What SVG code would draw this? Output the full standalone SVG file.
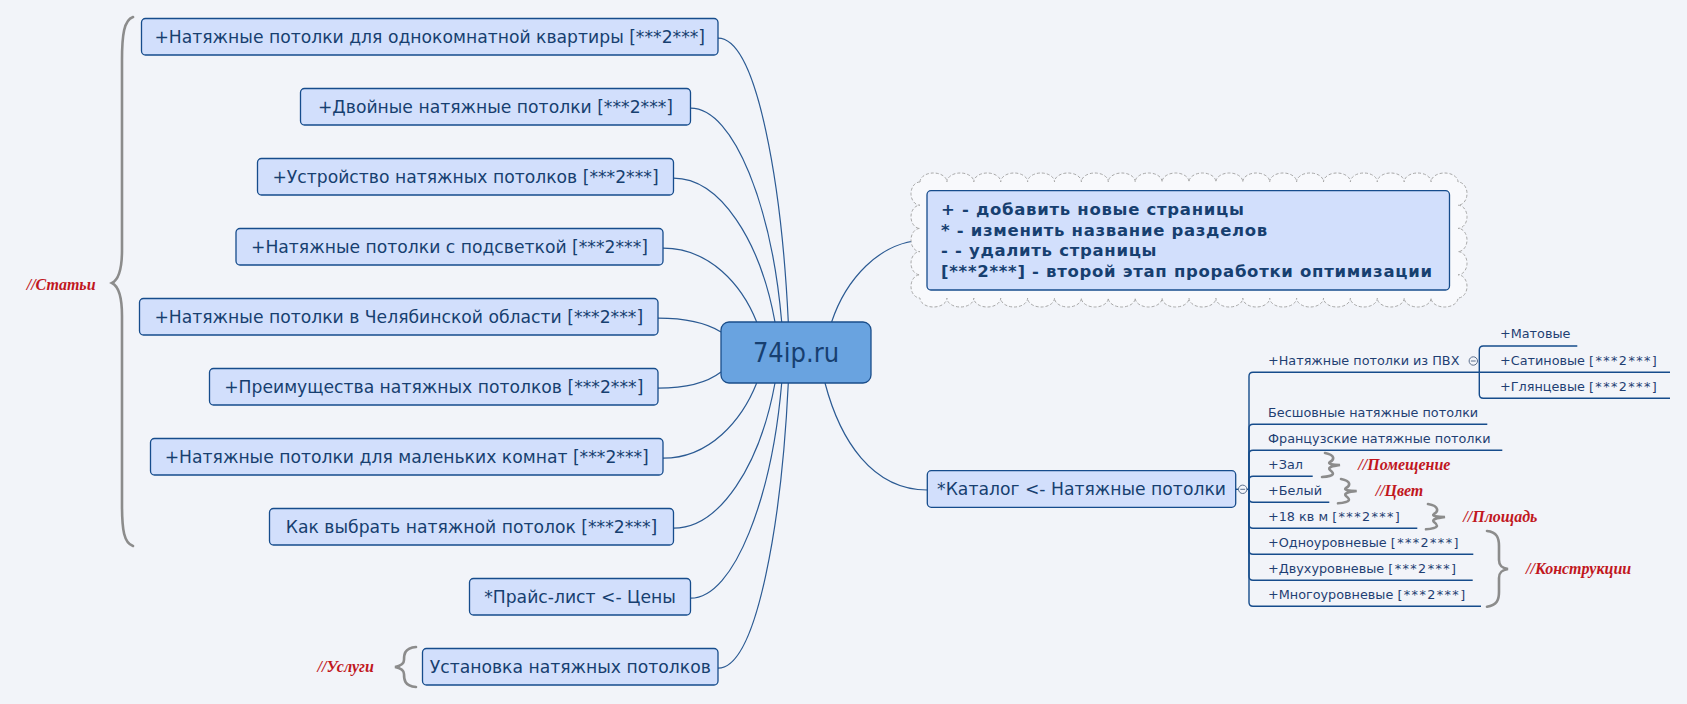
<svg xmlns="http://www.w3.org/2000/svg" width="1687" height="704" viewBox="0 0 1687 704">
<style>
.bg{fill:#F2F4F9}
.node rect{fill:#D2DFFC;stroke:#164C8C;stroke-width:1.3}
.t{font-family:'DejaVu Sans','Liberation Sans',sans-serif;font-size:17.2px;fill:#173F70;text-anchor:middle}
.ctr{font-family:'DejaVu Sans','Liberation Sans',sans-serif;font-stretch:condensed;font-size:27px;fill:#173F70;text-anchor:middle}
.conn path{fill:none;stroke:#2B5A93;stroke-width:1.2}
.tree path{fill:none;stroke:#164C8C;stroke-width:1.4}
.ct{font-family:'DejaVu Sans','Liberation Sans',sans-serif;font-size:12.8px;fill:#1F3F73}
.ct tspan{letter-spacing:1.4px}
.lab{font-family:'Liberation Serif',serif;font-style:italic;font-weight:bold;font-size:16px;fill:#C1171E}
.brace{fill:none;stroke:#8C8C8C;stroke-width:2.6;stroke-linecap:round}
.note{font-family:'DejaVu Sans','Liberation Sans',sans-serif;font-weight:bold;font-size:16.5px;letter-spacing:0.7px;fill:#173F70}
.col{fill:#F2F4F9;stroke:#5A6E8C;stroke-width:1}
</style>
<rect class="bg" x="0" y="0" width="1687" height="704"/>

<g id="connectors" class="conn">
<path d="M718,38.2 C758,38.2 782,190 788.3,322"/>
<path d="M690.5,108.2 C735,108.2 772,210 781.7,322"/>
<path d="M673.5,178.2 C720,178.2 760,240 775,322"/>
<path d="M663,248.2 C710,248.2 742,285 756.7,322"/>
<path d="M658,318.2 C688,318.2 708,324 721,332"/>
<path d="M658,388.2 C688,388.2 708,382 721,372"/>
<path d="M663,458.2 C710,458.2 742,420 756.7,383"/>
<path d="M673.5,528.2 C720,528.2 760,465 775,383"/>
<path d="M690.5,598.2 C735,598.2 772,495 781.7,383"/>
<path d="M718,668.2 C758,668.2 782,515 788.3,383"/>
<path d="M831.6,322 C845,282 878,240 927,240"/>
<path d="M825,383 C840,440 872,490 927.3,490"/>
</g>

<g id="braces">
<path class="brace" d="M133,17 C124,20 122,35 122,60 L122,250 C122,272 118,280 112,283 C118,286 122,294 122,316 L122,505 C122,530 124,543 133,546"/>
<path class="brace" d="M416,647 C404,648 404,655 404,660 C404,664 400,666 395,667 C400,668 404,670 404,674 C404,679 404,686 416,687"/>
<path class="brace" d="M1325,453 C1336,455 1334,460 1330,462 C1327,464 1333,465 1340,465 C1333,466 1327,467 1330,470 C1334,473 1336,476 1322,477"/>
<path class="brace" d="M1341,479 C1352,481 1350,486 1346,488 C1343,490 1349,491 1356.7,491 C1349,492 1343,493 1346,496 C1350,499 1352,502 1338,503.3"/>
<path class="brace" d="M1428,504 C1440,506 1438,512 1434,514 C1431,516 1438,517 1445,517 C1438,518 1431,519 1434,522 C1438,525 1440,528 1426,529.3"/>
<path class="brace" d="M1487,531 C1497,532 1499,538 1499,546 L1499,560 C1499,566 1502,568 1508,569 C1502,570 1499,572 1499,578 L1499,592 C1499,600 1497,605 1487,606.7"/>
</g>

<g id="labels">
<text class="lab" x="26.7" y="290">//Статьи</text>
<text class="lab" x="317.5" y="672">//Услуги</text>
<text class="lab" x="1358.3" y="470">//Помещение</text>
<text class="lab" x="1375.7" y="496">//Цвет</text>
<text class="lab" x="1463.3" y="522">//Площадь</text>
<text class="lab" x="1526" y="574">//Конструкции</text>
</g>

<g id="n1" class="node"><rect x="141.5" y="18.5" width="576.5" height="36.5" rx="4"/><text class="t" x="429.75" y="43">+Натяжные потолки для однокомнатной квартиры [***2***]</text></g>
<g id="n2" class="node"><rect x="300.5" y="88.5" width="390" height="36.5" rx="4"/><text class="t" x="495.5" y="113">+Двойные натяжные потолки [***2***]</text></g>
<g id="n3" class="node"><rect x="257.5" y="158.5" width="416" height="36.5" rx="4"/><text class="t" x="465.5" y="183">+Устройство натяжных потолков [***2***]</text></g>
<g id="n4" class="node"><rect x="236" y="228.5" width="427" height="36.5" rx="4"/><text class="t" x="449.5" y="253">+Натяжные потолки с подсветкой [***2***]</text></g>
<g id="n5" class="node"><rect x="139.5" y="298.5" width="518.5" height="36.5" rx="4"/><text class="t" x="398.75" y="323">+Натяжные потолки в Челябинской области [***2***]</text></g>
<g id="n6" class="node"><rect x="209.5" y="368.5" width="448.5" height="36.5" rx="4"/><text class="t" x="433.75" y="393">+Преимущества натяжных потолков [***2***]</text></g>
<g id="n7" class="node"><rect x="150.5" y="438.5" width="512.5" height="36.5" rx="4"/><text class="t" x="406.75" y="463">+Натяжные потолки для маленьких комнат [***2***]</text></g>
<g id="n8" class="node"><rect x="269.5" y="508.5" width="404" height="36.5" rx="4"/><text class="t" x="471.5" y="533">Как выбрать натяжной потолок [***2***]</text></g>
<g id="n9" class="node"><rect x="469.5" y="578.5" width="221" height="36.5" rx="4"/><text class="t" x="580" y="603">*Прайс-лист &lt;- Цены</text></g>
<g id="n10" class="node"><rect x="422.5" y="648.5" width="295.5" height="36.5" rx="4"/><text class="t" x="570.25" y="673">Установка натяжных потолков</text></g>

<g id="center" class="node"><rect x="721" y="322" width="150" height="61" rx="8" style="fill:#69A3E0;stroke:#1A4D8A"/><text class="ctr" x="796" y="362">74ip.ru</text></g>

<g id="note">
<path d="M920,182 a13.45,9 0 0 1 26.9,0 a13.45,9 0 0 1 26.9,0 a13.45,9 0 0 1 26.9,0 a13.45,9 0 0 1 26.9,0 a13.45,9 0 0 1 26.9,0 a13.45,9 0 0 1 26.9,0 a13.45,9 0 0 1 26.9,0 a13.45,9 0 0 1 26.9,0 a13.45,9 0 0 1 26.9,0 a13.45,9 0 0 1 26.9,0 a13.45,9 0 0 1 26.9,0 a13.45,9 0 0 1 26.9,0 a13.45,9 0 0 1 26.9,0 a13.45,9 0 0 1 26.9,0 a13.45,9 0 0 1 26.9,0 a13.45,9 0 0 1 26.9,0 a13.45,9 0 0 1 26.9,0 a13.45,9 0 0 1 26.9,0 a13.45,9 0 0 1 26.9,0 a13.45,9 0 0 1 26.9,0 a9,11.6 0 0 1 0,23.2 a9,11.6 0 0 1 0,23.2 a9,11.6 0 0 1 0,23.2 a9,11.6 0 0 1 0,23.2 a9,11.6 0 0 1 0,23.2 a13.45,9 0 0 1 -26.9,0 a13.45,9 0 0 1 -26.9,0 a13.45,9 0 0 1 -26.9,0 a13.45,9 0 0 1 -26.9,0 a13.45,9 0 0 1 -26.9,0 a13.45,9 0 0 1 -26.9,0 a13.45,9 0 0 1 -26.9,0 a13.45,9 0 0 1 -26.9,0 a13.45,9 0 0 1 -26.9,0 a13.45,9 0 0 1 -26.9,0 a13.45,9 0 0 1 -26.9,0 a13.45,9 0 0 1 -26.9,0 a13.45,9 0 0 1 -26.9,0 a13.45,9 0 0 1 -26.9,0 a13.45,9 0 0 1 -26.9,0 a13.45,9 0 0 1 -26.9,0 a13.45,9 0 0 1 -26.9,0 a13.45,9 0 0 1 -26.9,0 a13.45,9 0 0 1 -26.9,0 a13.45,9 0 0 1 -26.9,0 a9,11.6 0 0 1 0,-23.2 a9,11.6 0 0 1 0,-23.2 a9,11.6 0 0 1 0,-23.2 a9,11.6 0 0 1 0,-23.2 a9,11.6 0 0 1 0,-23.2 Z" fill="#F8F9FC" stroke="#A8A8A8" stroke-width="1" stroke-dasharray="3,2"/>
<rect x="927" y="190.7" width="522.5" height="99.3" rx="4" fill="#D2DFFC" stroke="#164C8C" stroke-width="1.3"/>
<text class="note" x="941" y="215">+ - добавить новые страницы</text>
<text class="note" x="941" y="235.7">* - изменить название разделов</text>
<text class="note" x="941" y="256.3">- - удалить страницы</text>
<text class="note" x="941" y="277">[***2***] - второй этап проработки оптимизации</text>
</g>

<g id="catalog" class="node"><rect x="927.3" y="470.7" width="308.4" height="36.6" rx="4"/><text class="t" x="1081.5" y="495">*Каталог &lt;- Натяжные потолки</text></g>

<g id="tree" class="tree">
<path d="M1235.7,489.3 H1249"/>
<path d="M1249,489.3 V376.3 Q1249,372.3 1253,372.3 H1479.3"/>
<path d="M1249,489.3 V428.3 Q1249,424.3 1253,424.3 H1487.3"/>
<path d="M1249,489.3 V454.3 Q1249,450.3 1253,450.3 H1502.3"/>
<path d="M1249,489.3 V480.3 Q1249,476.3 1253,476.3 H1312.7"/>
<path d="M1249,489.3 V498.3 Q1249,502.3 1253,502.3 H1329.3"/>
<path d="M1249,489.3 V524.3 Q1249,528.3 1253,528.3 H1417.3"/>
<path d="M1249,489.3 V550.3 Q1249,554.3 1253,554.3 H1473.3"/>
<path d="M1249,489.3 V576.3 Q1249,580.3 1253,580.3 H1472.7"/>
<path d="M1249,489.3 V602.3 Q1249,606.3 1253,606.3 H1481"/>
<path d="M1479.3,372.3 V350 Q1479.3,346 1483.3,346 H1577.3"/>
<path d="M1479.3,372.3 H1670"/>
<path d="M1479.3,372.3 V394.3 Q1479.3,398.3 1483.3,398.3 H1670"/>
</g>
<g id="collapse">
<circle class="col" cx="1242.7" cy="489.3" r="4.2"/><path d="M1240.3,489.3 H1245.1" stroke="#5A6E8C" stroke-width="1"/>
<circle class="col" cx="1473.3" cy="361" r="4.2"/><path d="M1470.9,361 H1475.7" stroke="#5A6E8C" stroke-width="1"/>
</g>

<g id="children">
<g id="c1"><text class="ct" x="1268" y="364.5">+Натяжные потолки из ПВХ</text></g>
<g id="c1a"><text class="ct" x="1500" y="338">+Матовые</text></g>
<g id="c1b"><text class="ct" x="1500" y="364.5">+Сатиновые <tspan>[***2***]</tspan></text></g>
<g id="c1c"><text class="ct" x="1500" y="390.5">+Глянцевые <tspan>[***2***]</tspan></text></g>
<g id="c2"><text class="ct" x="1268" y="416.5">Бесшовные натяжные потолки</text></g>
<g id="c3"><text class="ct" x="1268" y="442.5">Французские натяжные потолки</text></g>
<g id="c4"><text class="ct" x="1268" y="468.5">+Зал</text></g>
<g id="c5"><text class="ct" x="1268" y="494.5">+Белый</text></g>
<g id="c6"><text class="ct" x="1268" y="520.5">+18 кв м <tspan>[***2***]</tspan></text></g>
<g id="c7"><text class="ct" x="1268" y="546.5">+Одноуровневые <tspan>[***2***]</tspan></text></g>
<g id="c8"><text class="ct" x="1268" y="572.5">+Двухуровневые <tspan>[***2***]</tspan></text></g>
<g id="c9"><text class="ct" x="1268" y="598.5">+Многоуровневые <tspan>[***2***]</tspan></text></g>
</g>
</svg>
